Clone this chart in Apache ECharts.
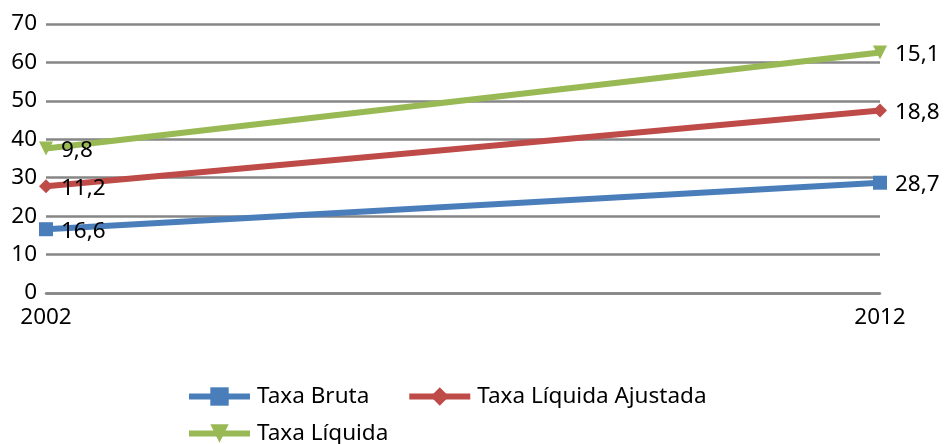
<!DOCTYPE html>
<html>
<head>
<meta charset="utf-8">
<script src="https://cdn.jsdelivr.net/npm/echarts@6/dist/echarts.min.js"></script>
<style>
  html, body { margin: 0; padding: 0; background: #fff; }
  #chart { width: 944px; height: 444px; }
</style>
</head>
<body>
<div id="chart"></div>
<script>
// Years shown on the horizontal axis
const years = ['2002', '2012'];

// Rates per year (stacked on top of each other in the plot)
const taxaBruta = [16.6, 28.7];
const taxaLiquidaAjustada = [11.2, 18.8];
const taxaLiquida = [9.8, 15.1];

const seriesNames = ['Taxa Bruta', 'Taxa Líquida Ajustada', 'Taxa Líquida'];

const FONT = 'Noto Sans';
const FS = 22.5;
const fmt = p => String(p.value).replace('.', ',');

function makeSeries(name, data, color, symbol, rotate) {
  return {
    name: name,
    type: 'line',
    stack: 'taxas',
    data: data,
    symbol: symbol,
    symbolSize: 14,
    symbolRotate: rotate || 0,
    showAllSymbol: true,
    lineStyle: { color: color, width: 6 },
    itemStyle: { color: color },
    label: {
      show: true,
      position: 'right',
      distance: 8,
      offset: [0, 2],
      color: '#000',
      fontFamily: FONT,
      fontSize: FS,
      formatter: fmt
    },
    emphasis: { disabled: true },
    animation: false
  };
}

// Shared legend look; the legend is split over two rows
const legendBase = {
  left: 186,
  padding: 0,
  itemWidth: 61,
  itemHeight: 23,
  itemGap: 37,
  textStyle: { fontFamily: FONT, fontSize: FS, color: '#000', padding: [0, 0, 0, 2] },
  lineStyle: { width: 6 }
};

const chart = echarts.init(document.getElementById('chart'));
chart.setOption({
  backgroundColor: '#fff',
  animation: false,
  grid: { left: 46, right: 64, top: 24, bottom: 151, containLabel: false },
  legend: [
    Object.assign({}, legendBase, { data: seriesNames.slice(0, 2), top: 385 }),
    Object.assign({}, legendBase, { data: seriesNames.slice(2), top: 422 })
  ],
  xAxis: {
    type: 'category',
    data: years,
    boundaryGap: false,
    axisTick: { show: false },
    axisLine: { show: true, lineStyle: { color: '#868686', width: 2.5 } },
    axisLabel: { color: '#000', fontFamily: FONT, fontSize: FS, margin: 13 }
  },
  yAxis: {
    type: 'value',
    min: 0,
    max: 70,
    interval: 10,
    axisLine: { show: false },
    axisTick: { show: false },
    axisLabel: { color: '#000', fontFamily: FONT, fontSize: FS, margin: 9 },
    splitLine: { lineStyle: { color: '#868686', width: 2.5 } }
  },
  series: [
    makeSeries(seriesNames[0], taxaBruta, '#4a7ebb', 'rect'),
    makeSeries(seriesNames[1], taxaLiquidaAjustada, '#be4b48', 'diamond'),
    makeSeries(seriesNames[2], taxaLiquida, '#98b954', 'triangle', 180)
  ]
});
</script>
</body>
</html>
